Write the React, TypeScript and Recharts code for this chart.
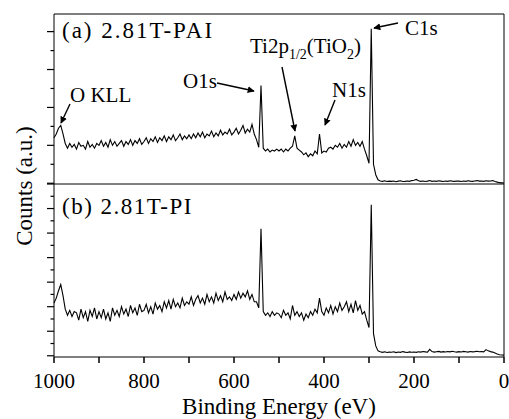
import React from 'react'
import { LineChart, Line, XAxis, YAxis } from 'recharts'

// binding energy grid (eV), left to right
const energies = [
  1000, 995, 990, 985, 980, 975, 970, 965, 960, 955,
  950, 945, 940, 935, 930, 925, 920, 915, 910, 905,
  900, 895, 890, 885, 880, 875, 870, 865, 860, 855,
  850, 845, 840, 835, 830, 825, 820, 815, 810, 805,
  800, 795, 790, 785, 780, 775, 770, 765, 760, 755,
  750, 745, 740, 735, 730, 725, 720, 715, 710, 705,
  700, 695, 690, 685, 680, 675, 670, 665, 660, 655,
  650, 645, 640, 635, 630, 625, 620, 615, 610, 605,
  600, 595, 590, 585, 580, 575, 570, 565, 560, 555,
  550, 545, 540, 535, 530, 525, 520, 515, 510, 505,
  500, 495, 490, 485, 480, 475, 470, 465, 460, 455,
  450, 445, 440, 435, 430, 425, 420, 415, 410, 405,
  400, 395, 390, 385, 380, 375, 370, 365, 360, 355,
  350, 345, 340, 335, 330, 325, 320, 315, 310, 305,
  300, 295, 290, 285, 280, 275, 270, 265, 260, 255,
  250, 245, 240, 235, 230, 225, 220, 215, 210, 205,
  200, 195, 190, 185, 180, 175, 170, 165, 160, 155,
  150, 145, 140, 135, 130, 125, 120, 115, 110, 105,
  100, 95, 90, 85, 80, 75, 70, 65, 60, 55,
  50, 45, 40, 35, 30, 25, 20, 15, 10, 5,
  0,
]

// (a) 2.81T-PAI counts, a.u.
const countsPAI = [
  2.4, 2.6, 2.9, 3.05, 2.6, 2.1, 1.85, 2.1, 1.9, 2.05,
  1.8, 2.15, 1.95, 2.0, 1.8, 2.2, 1.9, 2.05, 1.85, 2.1,
  2.0, 2.25, 1.95, 2.15, 1.9, 2.3, 2.0, 2.2, 1.95, 2.1,
  2.25, 1.95, 2.2, 2.05, 2.3, 2.0, 2.25, 2.1, 2.35, 2.05,
  2.2, 2.4, 2.1, 2.35, 2.2, 2.45, 2.15, 2.4, 2.25, 2.5,
  2.2, 2.45, 2.3, 2.55, 2.25, 2.4, 2.6, 2.3, 2.5, 2.35,
  2.55, 2.35, 2.6, 2.4, 2.65, 2.45, 2.7, 2.4, 2.6, 2.5,
  2.75, 2.45, 2.65, 2.5, 2.8, 2.55, 2.7, 2.6, 2.85, 2.55,
  2.7, 2.9, 2.6, 2.8, 3.05, 2.65, 2.85, 2.7, 3.1, 2.6,
  2.3, 1.9, 5.15, 1.85, 1.7, 1.8, 1.65, 1.75, 1.7, 1.8,
  1.7, 1.8, 1.65, 1.8, 1.7, 1.85, 1.95, 2.5, 1.85, 1.75,
  1.65, 1.5, 1.6, 1.4, 1.55, 1.45, 1.7, 1.55, 2.6, 1.6,
  1.7, 1.65, 1.85, 1.9, 1.8, 2.0, 1.9, 2.1, 1.85, 2.05,
  1.9, 2.2, 1.95, 2.3, 2.0, 2.15, 1.95, 2.2, 1.8, 1.45,
  1.05, 8.15, 1.0, 0.45, 0.18, 0.12, 0.1, 0.13, 0.09, 0.11,
  0.1, 0.12, 0.08, 0.11, 0.13, 0.09, 0.1, 0.12, 0.1, 0.14,
  0.16, 0.2, 0.13, 0.1, 0.12, 0.09, 0.11, 0.14, 0.1, 0.12,
  0.1, 0.13, 0.11, 0.09, 0.12, 0.1, 0.13, 0.11, 0.1, 0.12,
  0.11, 0.09, 0.12, 0.1, 0.13, 0.11, 0.1, 0.12, 0.14, 0.11,
  0.12, 0.1, 0.13, 0.11, 0.12, 0.14, 0.09, 0.06, 0.03, 0.02,
  0.01,
]

// (b) 2.81T-PI counts, a.u.
const countsPI = [
  4.3, 4.7, 5.3, 5.8, 4.9, 3.8, 3.3, 3.7, 3.2, 3.6,
  3.5, 2.9, 3.8, 3.1, 3.6, 2.8, 3.7, 3.2, 3.9, 3.0,
  3.6, 3.1, 3.8, 3.0, 3.5, 2.8, 3.9, 3.3, 3.7, 3.2,
  4.0, 3.4, 3.8, 3.2, 4.1, 3.5, 3.9, 3.3, 4.2, 3.6,
  3.7, 4.2, 3.5, 4.0, 3.4, 4.3, 3.8, 4.1, 3.6, 4.4,
  3.9, 4.5, 3.8, 4.6, 4.0, 4.3, 3.9, 4.7, 4.1, 4.4,
  4.2, 4.8, 4.1, 4.6, 4.9, 4.3, 4.7, 4.2, 5.0, 4.4,
  4.8, 4.3, 5.1, 4.5, 4.9, 4.4, 5.2, 4.6, 4.8, 4.5,
  5.0, 4.6, 5.2, 4.7, 5.1, 4.8, 5.3, 4.6, 5.0, 4.4,
  4.4, 3.9, 10.35, 3.6, 3.3, 3.5, 3.2, 3.6, 3.3, 3.5,
  3.4, 3.1, 3.7, 3.3, 3.5, 3.0, 4.1, 3.3, 3.6, 3.2,
  3.5, 2.9, 3.4, 3.1, 3.6, 3.3, 3.8, 3.5, 4.7, 3.6,
  3.3, 3.9, 3.5, 4.1, 3.4, 4.0, 3.6, 4.3, 3.7, 4.0,
  4.4, 3.6, 4.2, 3.5, 4.5, 3.7, 4.1, 3.4, 3.6, 2.9,
  2.3, 12.3, 1.8, 0.8, 0.4, 0.32, 0.28, 0.33, 0.27, 0.3,
  0.29, 0.33, 0.26, 0.31, 0.28, 0.34, 0.3, 0.27, 0.32, 0.29,
  0.31, 0.28, 0.33, 0.3, 0.35, 0.32, 0.29, 0.52, 0.34, 0.3,
  0.33, 0.36, 0.3, 0.34, 0.31, 0.35, 0.32, 0.37, 0.33, 0.3,
  0.34, 0.31, 0.36, 0.33, 0.3, 0.35, 0.32, 0.34, 0.37, 0.33,
  0.35, 0.32, 0.5, 0.4, 0.34, 0.3, 0.22, 0.14, 0.08, 0.06,
  0.05,
]

const xTicks = [0, 100, 200, 300, 400, 500, 600, 700, 800, 900, 1000]
const topTicks = [0, 1, 2, 3, 4, 5, 6, 7, 8]
const botTicks = [0, 1, 2, 3, 4, 5, 6, 7, 8, 9, 10, 11, 12, 13, 14]

const data = energies.map((be, i) => ({ be, a: countsPAI[i], b: countsPI[i] }))

const W = 509
const H = 419
const serif = 'Liberation Serif'
const ink = '#000'

// left-axis tick: long on even steps, short on odd
const YTick = (props: any) => {
  const { x, y, payload } = props
  const len = payload.value % 2 === 0 ? 7 : 3.5
  return <line x1={x} y1={y} x2={x - len} y2={y} stroke={ink} strokeWidth={1.2} />
}

// bottom-axis tick: mark every 100 eV, label every 200 eV
const XTick = (props: any) => {
  const { x, y, payload } = props
  const v = payload.value
  return (
    <g>
      <rect x={x - 0.75} y={y} width={1.5} height={6} fill={ink} />
      {v % 200 === 0 && (
        <text x={x} y={y + 31} textAnchor="middle" fontSize={21} fontFamily={serif} fill="#000">
          {String(v)}
        </text>
      )}
    </g>
  )
}

const Arrow = ({ x1, y1, x2, y2 }: { x1: number; y1: number; x2: number; y2: number }) => (
  <line x1={x1} y1={y1} x2={x2} y2={y2} stroke={ink} strokeWidth={1.4} markerEnd="url(#head)" />
)

export default function App() {
  return (
    <div style={{ position: 'absolute', left: 0, top: 0, width: W, height: H, background: '#fff' }}>
      {/* (a) upper panel */}
      <div style={{ position: 'absolute', left: 0, top: 0 }}>
        <LineChart width={W} height={H} data={data} margin={{ top: 13, right: 4, bottom: 234, left: 53 }}>
          <XAxis dataKey="be" type="number" domain={[0, 1000]} reversed height={1} tick={false} tickLine={false} stroke={ink} />
          <XAxis xAxisId="top" dataKey="be" type="number" domain={[0, 1000]} reversed orientation="top" height={1} tick={false} tickLine={false} stroke={ink} />
          <YAxis type="number" domain={[-0.04, 8.93]} ticks={topTicks} interval={0} width={1} tickSize={0} tickMargin={0} tickLine={false} tick={<YTick />} stroke={ink} />
          <YAxis yAxisId="r" orientation="right" type="number" domain={[-0.04, 8.93]} width={1} tick={false} tickLine={false} stroke={ink} />
          <Line dataKey="a" type="linear" stroke="#000" strokeWidth={1.1} dot={false} isAnimationActive={false} />
        </LineChart>
      </div>

      {/* (b) lower panel */}
      <div style={{ position: 'absolute', left: 0, top: 0 }}>
        <LineChart width={W} height={H} data={data} margin={{ top: 184, right: 4, bottom: 0, left: 53 }}>
          <XAxis
            dataKey="be"
            type="number"
            domain={[0, 1000]}
            reversed
            ticks={xTicks}
            interval={0}
            height={62}
            tickSize={0}
            tickMargin={0}
            tickLine={false}
            stroke={ink}
            tick={<XTick />}
          />
          <YAxis type="number" domain={[-0.1, 14]} ticks={botTicks} interval={0} width={1} tickSize={0} tickMargin={0} tickLine={false} tick={<YTick />} stroke={ink} />
          <YAxis yAxisId="r" orientation="right" type="number" domain={[-0.1, 14]} width={1} tick={false} tickLine={false} stroke={ink} />
          <Line dataKey="b" type="linear" stroke="#000" strokeWidth={1.1} dot={false} isAnimationActive={false} />
        </LineChart>
      </div>

      {/* titles and annotations */}
      <svg width={W} height={H} style={{ position: 'absolute', left: 0, top: 0, pointerEvents: 'none', fontFamily: serif }} fill="#000">
        <defs>
          <marker id="head" viewBox="0 0 10 10" refX="9" refY="5" markerWidth="5" markerHeight="5" orient="auto">
            <path d="M0,0 L10,5 L0,10 z" fill={ink} />
          </marker>
        </defs>
        <text x={279} y={414} fontSize={23} textAnchor="middle">Binding Energy (eV)</text>
        <text x={24} y={186} fontSize={23} textAnchor="middle" dominantBaseline="central" transform="rotate(-90 24 186)">
          Counts (a.u.)
        </text>
        <text x={62} y={38} fontSize={23} letterSpacing={2}>(a) 2.81T-PAI</text>
        <text x={62} y={214} fontSize={23} letterSpacing={1.5}>(b) 2.81T-PI</text>
        <text x={70} y={102} fontSize={21}>O KLL</text>
        <text x={183} y={88} fontSize={21}>O1s</text>
        <text x={332} y={97} fontSize={21}>N1s</text>
        <text x={405} y={35} fontSize={21}>C1s</text>
        <text x={250} y={53} fontSize={21}>
          Ti2p<tspan fontSize={14} dy={6}>1/2</tspan>
          <tspan dy={-6}>(TiO</tspan>
          <tspan fontSize={14} dy={6}>2</tspan>
          <tspan dy={-6}>)</tspan>
        </text>
        <Arrow x1={70} y1={104} x2={61} y2={123} />
        <Arrow x1={217} y1={83} x2={254} y2={91} />
        <Arrow x1={282} y1={67} x2={295} y2={131} />
        <Arrow x1={335} y1={100} x2={325} y2={125} />
        <Arrow x1={398} y1={23} x2={374} y2={28} />
      </svg>
    </div>
  )
}
